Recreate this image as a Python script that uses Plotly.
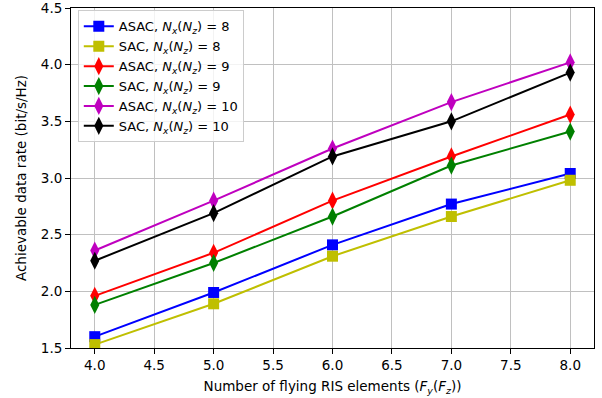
import plotly.graph_objects as go

x_vals = [4.0, 5.0, 6.0, 7.0, 8.0]

asac_8 = [1.60, 1.99, 2.41, 2.77, 3.04]
sac_8 = [1.53, 1.89, 2.31, 2.66, 2.98]
asac_9 = [1.96, 2.34, 2.80, 3.19, 3.56]
sac_9 = [1.88, 2.25, 2.66, 3.11, 3.41]
asac_10 = [2.36, 2.80, 3.26, 3.67, 4.02]
sac_10 = [2.27, 2.69, 3.19, 3.50, 3.93]

series_names = [
    "ASAC, <i>N</i><sub><i>x</i></sub>(<i>N</i><sub><i>z</i></sub>) = 8",
    "SAC, <i>N</i><sub><i>x</i></sub>(<i>N</i><sub><i>z</i></sub>) = 8",
    "ASAC, <i>N</i><sub><i>x</i></sub>(<i>N</i><sub><i>z</i></sub>) = 9",
    "SAC, <i>N</i><sub><i>x</i></sub>(<i>N</i><sub><i>z</i></sub>) = 9",
    "ASAC, <i>N</i><sub><i>x</i></sub>(<i>N</i><sub><i>z</i></sub>) = 10",
    "SAC, <i>N</i><sub><i>x</i></sub>(<i>N</i><sub><i>z</i></sub>) = 10",
]
series_values = [asac_8, sac_8, asac_9, sac_9, asac_10, sac_10]
colors = ["#0000ff", "#bfbf00", "#ff0000", "#008000", "#bf00bf", "#000000"]
symbols = ["square", "square", "diamond-tall", "diamond-tall", "diamond-tall", "diamond-tall"]
sizes = [11, 11, 13, 13, 13, 13]

y_ticks = [1.5, 2.0, 2.5, 3.0, 3.5, 4.0, 4.5]
x_ticks = [4.0, 4.5, 5.0, 5.5, 6.0, 6.5, 7.0, 7.5, 8.0]

fig = go.Figure()
for name, vals, c, s, sz in zip(series_names, series_values, colors, symbols, sizes):
    fig.add_trace(go.Scatter(
        x=x_vals, y=vals, name=name, mode="lines+markers",
        line=dict(color=c, width=2),
        marker=dict(color=c, symbol=s, size=sz, line=dict(width=0)),
    ))

font_family = "DejaVu Sans"
fig.update_layout(
    width=602, height=398,
    margin=dict(l=71, r=8, t=8, b=50),
    plot_bgcolor="white", paper_bgcolor="white",
    font=dict(family=font_family, size=13.5, color="black"),
    showlegend=True,
    legend=dict(
        x=0.013, y=0.993, xanchor="left", yanchor="top",
        bgcolor="rgba(255,255,255,0.8)", bordercolor="#cccccc", borderwidth=1,
        font=dict(family=font_family, size=13, color="black"),
        tracegroupgap=0, itemwidth=30,
    ),
)
fig.update_xaxes(
    range=[3.8, 8.2], tickvals=x_ticks, tickformat=".1f", automargin=False,
    showgrid=True, gridcolor="#c0c0c0", gridwidth=1,
    showline=True, linecolor="black", linewidth=1, mirror=True,
    ticks="outside", ticklen=5, tickcolor="black", zeroline=False,
    tickfont=dict(size=13.5), ticklabeloverflow="allow",
    title=dict(text="Number of flying RIS elements (<i>F</i><sub><i>y</i></sub>(<i>F</i><sub><i>z</i></sub>))",
               font=dict(size=13.5), standoff=9),
)
fig.update_yaxes(
    range=[1.5, 4.5], tickvals=y_ticks, tickformat=".1f", automargin=False,
    showgrid=True, gridcolor="#c0c0c0", gridwidth=1,
    showline=True, linecolor="black", linewidth=1, mirror=True,
    ticks="outside", ticklen=5, tickcolor="black", zeroline=False,
    tickfont=dict(size=13.5), ticklabeloverflow="allow",
    title=dict(text="Achievable data rate (bit/s/Hz)", font=dict(size=13.5), standoff=11),
)

fig.write_html("out.html", config={"displayModeBar": False},
               post_script="document.body.style.margin='0';")
